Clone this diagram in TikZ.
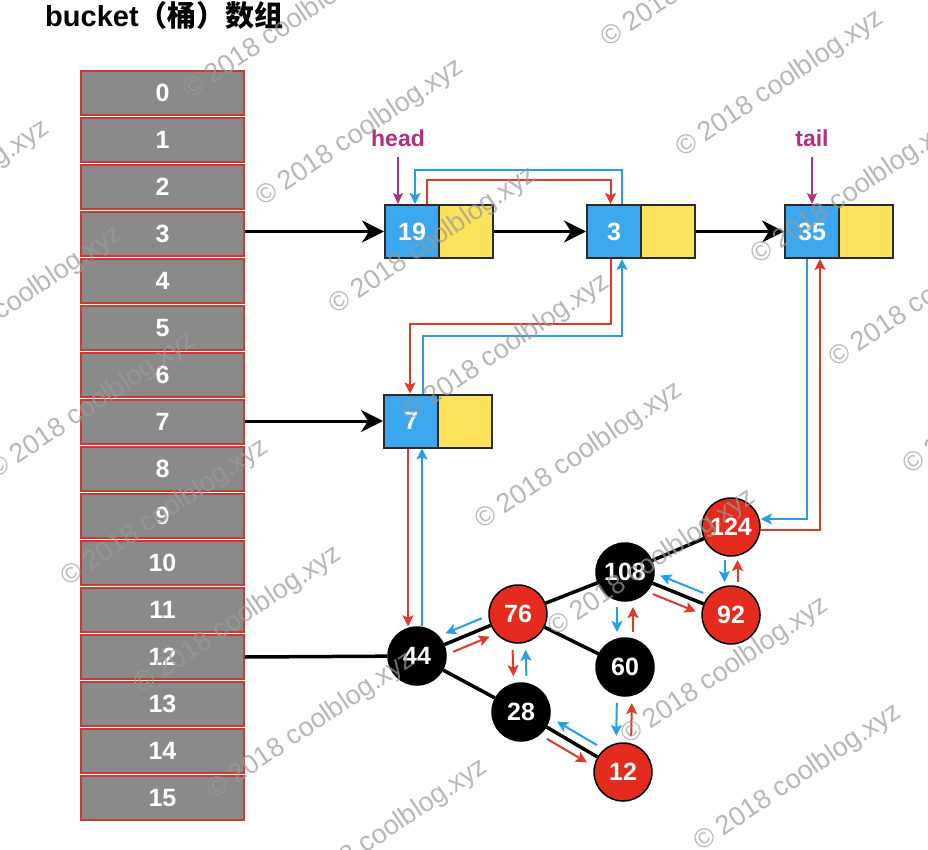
\documentclass[tikz,border=0pt]{standalone}
\usepackage{fontspec}
\setmainfont{Liberation Sans}
\newfontfamily\cjk{Noto Sans CJK SC}
\usetikzlibrary{arrows.meta,calc}

\definecolor{cellgray}{HTML}{8A8A8A}
\definecolor{cellred}{HTML}{CC3B33}
\definecolor{boxblue}{HTML}{3AA7EF}
\definecolor{boxyellow}{HTML}{FDE25B}
\definecolor{boxedge}{HTML}{2B2B2B}
\definecolor{nodered}{HTML}{E52A1E}
\definecolor{linkred}{HTML}{E0382A}
\definecolor{linkblue}{HTML}{25A0E8}
\definecolor{ptrpink}{HTML}{B4307F}
\definecolor{wmgray}{HTML}{9A9A9A}

\tikzset{
  numfont/.style={font=\fontsize{25}{29}\selectfont\bfseries},
  cell/.style={draw=cellred, fill=cellgray, line width=1.6pt, minimum width=163pt,
    minimum height=44pt, inner sep=0pt, text=white, numfont},
  keybox/.style={draw=boxedge, fill=boxblue, line width=2pt, minimum width=54pt,
    minimum height=53pt, inner sep=0pt, text=white, numfont},
  nextbox/.style={keybox, fill=boxyellow},
  rbnode/.style={circle, draw=black, line width=1.5pt, minimum size=58pt, inner sep=0pt,
    text=white, numfont},
  blacknode/.style={rbnode, fill=black},
  rednode/.style={rbnode, fill=nodered},
  barrow/.style={line width=3pt, -{Stealth[length=22pt,width=22pt,inset=7pt]}},
  treeedge/.style={line width=3.5pt},
  redlink/.style={draw=linkred, line width=2pt, -{Stealth[length=11pt,width=11pt,inset=2.5pt]}},
  bluelink/.style={draw=linkblue, line width=2pt, -{Stealth[length=11pt,width=11pt,inset=2.5pt]}},
  ptrlabel/.style={text=ptrpink, font=\fontsize{23}{27}\selectfont\bfseries, inner sep=0pt},
  ptrarrow/.style={draw=ptrpink, line width=1.6pt, -{Stealth[length=11pt,width=10pt,inset=2.5pt]}},
  watermark/.style={text=wmgray, text opacity=0.7, font=\fontsize{27}{30}\selectfont,
    inner sep=0pt, anchor=base west, rotate=34},
}

% next (red) and prev (blue) links between two tree nodes, each on the
% right-hand side of its direction of travel
\newcommand\linkpair[4]{%
  \draw[redlink] ($(#1)!#3!(#2)!#4!-90:(#2)$) -- ($(#2)!#3!(#1)!#4!90:(#1)$);
  \draw[bluelink] ($(#2)!#3!(#1)!#4!-90:(#1)$) -- ($(#1)!#3!(#2)!#4!90:(#2)$);
}

\begin{document}
\begin{tikzpicture}[x=1pt, y=-1pt]
\useasboundingbox (0,0) rectangle (928,850);
\clip (0,0) rectangle (928,850);
\fill[white] (0,0) rectangle (928,850);

% title
\node[anchor=base west, inner sep=0pt, font=\fontsize{29}{34}\selectfont\bfseries]
  (title) at (45,27) {bucket\cjk （桶）数组};

% bucket array
\foreach \i in {0,...,15} {
  \node[cell] (b\i) at (162.5, 93+47*\i) {\i};
}

% linked list in bucket 3
\node[keybox]  (k19) at (412,231.5) {19};
\node[nextbox] (n19) at (466,231.5) {};
\node[keybox]  (k3)  at (614,231.5) {3};
\node[nextbox] (n3)  at (668,231.5) {};
\node[keybox]  (k35) at (812,231.5) {35};
\node[nextbox] (n35) at (866,231.5) {};

% head of the tree bin in bucket 7
\node[keybox]  (k7) at (411,421) {7};
\node[nextbox] (n7) at (465,421) {};

% red-black tree in bucket 12
\node[blacknode] (t44)  at (417,656) {44};
\node[rednode]   (t76)  at (518,614) {76};
\node[blacknode] (t108) at (625,572) {108};
\node[rednode]   (t124) at (731,527) {124};
\node[rednode]   (t92)  at (731,615) {92};
\node[blacknode] (t60)  at (625,667) {60};
\node[blacknode] (t28)  at (521,712) {28};
\node[rednode]   (t12)  at (623,772) {12};

% head / tail pointers
\node[ptrlabel] (head) at (398,138) {head};
\node[ptrlabel] (tail) at (812,138) {tail};
\draw[ptrarrow, shorten <=10pt] (head.south) -- (head.south |- k19.north);
\draw[ptrarrow, shorten <=10pt] (tail.south) -- (tail.south |- k35.north);

% bucket references
\draw[barrow] (k19.west -| b3.east) -- (k19.west);
\draw[barrow] (n19.east) -- (k3.west);
\draw[barrow] (n3.east) -- (k35.west);
\draw[barrow] (k7.west -| b7.east) -- (k7.west);
\draw[treeedge] (b12.east) -- (t44);

% tree edges
\draw[treeedge] (t44) -- (t76);
\draw[treeedge] (t44) -- (t28);
\draw[treeedge] (t76) -- (t108);
\draw[treeedge] (t76) -- (t60);
\draw[treeedge] (t108) -- (t124);
\draw[treeedge] (t108) -- (t92);
\draw[treeedge] (t28) -- (t12);

% next / prev links of the list
\draw[bluelink] ([xshift=8pt]k3.north) -- ++(0,-34) -| ([xshift=3pt]k19.north);
\draw[redlink] ([xshift=15pt]k19.north) -- ++(0,-24) -| ([xshift=-3.5pt]k3.north);
\draw[redlink] ([xshift=-3.5pt]k3.south) -- ++(0,65) -| ([xshift=-1pt]k7.north);
\draw[bluelink] ([xshift=12pt]k7.north) -- ++(0,-58) -| ([xshift=8pt]k3.south);
\draw[redlink] ([xshift=-3pt]k7.south) -- ([xshift=-3pt]k7.south |- t44.north);
\draw[bluelink] ([xshift=11pt]k7.south |- t44.north) -- ([xshift=11pt]k7.south);
\draw[bluelink] ([xshift=-5pt]k35.south) |- ([yshift=8pt]t124.east);
\draw[redlink] ([yshift=-3pt]t124.east) -| ([xshift=8pt]k35.south);

% next / prev links inside the tree
\linkpair{t44}{t76}{35pt}{10pt}
\linkpair{t76}{t28}{36pt}{6.5pt}
\linkpair{t28}{t12}{36pt}{10pt}
\linkpair{t12}{t60}{36pt}{7.5pt}
\linkpair{t60}{t108}{35pt}{8pt}
\linkpair{t108}{t92}{34pt}{10pt}
\linkpair{t92}{t124}{33pt}{6.5pt}

% copyright marks
\foreach \x/\y in {-151/268, -78/374, -5/480, 68/587, 141/694, 214/800, 287/907,
                   190/100, 263/207, 336/315, 409/422, 482/530, 555/637, 628/745, 701/852,
                   608/48, 683/158, 758/265, 836/368, 910/475} {
  \node[watermark] at (\x,\y) {© 2018 coolblog.xyz};
}
\end{tikzpicture}
\end{document}
